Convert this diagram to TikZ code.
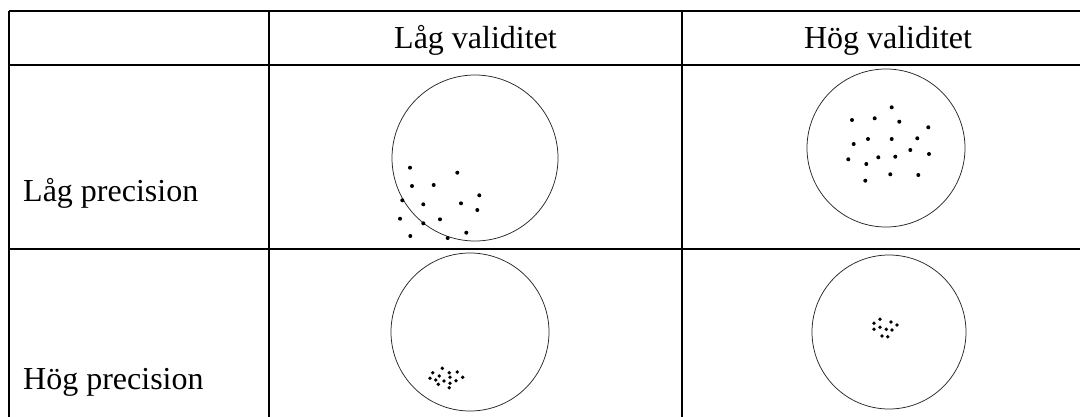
\documentclass[tikz,border=0pt]{standalone}
\usepackage{fontspec}
\setmainfont{Liberation Serif}
\begin{document}
\begin{tikzpicture}[x=1pt,y=-1pt,
  grid/.style={line width=1.5pt},
  target/.style={draw=black!85,line width=0.75pt,circle,inner sep=0pt},
  lbl/.style={font=\fontsize{32}{36}\selectfont,inner sep=0pt},
  hit/.style={fill=black}]
\useasboundingbox (0,0) rectangle (1080,416);
\begin{scope}
\clip (0,0) rectangle (1080,416);
\draw[grid] (9,11) -- (1100,11);
\draw[grid] (9,65) -- (1100,65);
\draw[grid] (9,249) -- (1100,249);
\draw[grid] (9,11) -- (9,430);
\draw[grid] (269,11) -- (269,430);
\draw[grid] (682,11) -- (682,430);
\end{scope}
\node[lbl,anchor=base] (h1) at (475.5,48) {Låg validitet};
\node[lbl,anchor=base] (h2) at (888,48) {Hög validitet};
\node[lbl,anchor=base west] (r1) at (23,201) {Låg precision};
\node[lbl,anchor=base west] (r2) at (23,389) {Hög precision};
\node[target,minimum size=166pt] (c11) at (475,158) {};
\node[target,minimum size=158pt] (c12) at (886,148) {};
\node[target,minimum size=158pt] (c21) at (470,332) {};
\node[target,minimum size=154pt] (c22) at (889,332) {};
\foreach \p in {(410,167.7),(457.3,172.7),(412,186),(433.7,185),(479.3,195.3),(402.3,200.3),(423.3,204.3),(461,203.3),(477.3,210),(400,218.7),(423.3,223.3),(440,219.3),(466.3,232.7),(410.3,236),(447.7,238)}
  \fill[hit] \p circle (2);
\foreach \p in {(891.7,107.3),(852,120),(874.7,118.3),(899.3,121.7),(928.3,127.3),(853.7,144),(868,139),(891.7,139),(917.3,138.3),(910.3,150),(929,154),(848.3,159.3),(866.3,164),(878.3,157.3),(895.3,156.7),(865.3,180.7),(890.3,174.3),(918.3,175)}
  \fill[hit] \p circle (2);
\foreach \p in {(442.3,368.3),(432.7,372.7),(439.3,376),(449.3,372.7),(457.3,372),(430,378.3),(435.7,380),(444,381),(450,377.3),(456,380.7),(462.7,377.3),(438.3,384.3),(450,383.3),(449.3,387.7)}
  \fill[hit] \p circle (1.9);
\foreach \p in {(880,319.3),(891,322),(874,323.3),(897,325),(880,327.3),(886.3,329.3),(892,330),(874,329.3),(882,336),(887.7,336.7)}
  \fill[hit] \p circle (1.9);
\end{tikzpicture}
\end{document}
